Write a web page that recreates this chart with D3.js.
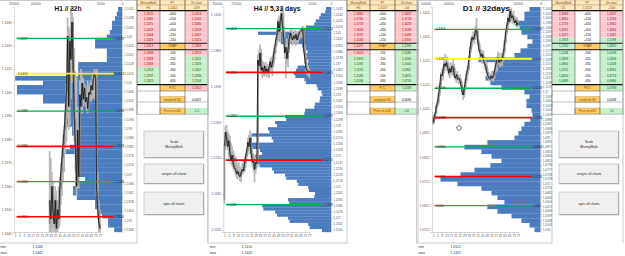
<!DOCTYPE html>
<html>
<head>
<meta charset="utf-8">
<script src="https://cdn.jsdelivr.net/npm/d3@7"></script>
<style>
  body { margin: 0; background: #fff; }
  svg { display: block; font-family: "Liberation Sans", Arial, sans-serif; }
</style>
</head>
<body>
<svg id="chart" width="625" height="256"></svg>
<script>
// -----------------------------
// data (prices in 1/10000, volumes in contracts)
// -----------------------------
const BAR_TICKS = [1, 5, 9, 13, 17, 21, 25, 29, 33, 37, 41, 45, 49, 53, 57, 61, 65, 69, 73, 77];
const PT_LABELS = ["+650", "+550", "+450", "+350", "+250", "+150", "VWAP", "-150", "-250", "-350", "-450", "-550", "-650"];

// H1 panel
const h1Title = "H1 // 32h";
const h1FirstBar = 32;
const h1FirstOpen = 11350;
const h1High = [11381,11378,11372,11368,11362,11366,11364,11360,11366,11370,11376,11382,11388,11392,11402,11410,11438,11434,11433,11442,11440,11438,11425,11415,11413,11400,11391,11411,11416,11413,11412,11410,11409,11408,11411,11409,11410,11411,11413,11414,11416,11415,11416,11372,11360,11356];
const h1Low  = [11344,11346,11345,11348,11344,11345,11346,11344,11348,11349,11358,11362,11368,11372,11380,11385,11395,11390,11392,11403,11410,11412,11385,11372,11362,11365,11365,11388,11398,11397,11400,11402,11400,11398,11397,11399,11403,11402,11403,11404,11403,11405,11362,11352,11346,11344];
const h1Close = [11360,11352,11366,11355,11350,11360,11348,11356,11352,11365,11372,11378,11384,11390,11398,11406,11430,11400,11428,11420,11436,11415,11395,11382,11366,11390,11370,11405,11400,11410,11403,11408,11402,11404,11399,11406,11405,11409,11407,11412,11414,11412,11364,11356,11350,11348];
const h1Profile = [900,1200,1600,2300,2300,2800,3500,6200,6200,3500,3500,3500,10100,10100,10100,24600,18200,24200,24200,18200,18200,13100,13100,13100,13100,13100,11500,11500,9700,9700,12000,13100,10100,10100,9700,9700,9700,8500,10800,11300,11300,10400,6200,6200,5100,4600,3200,3200,1800];
const h1PriceTicks = [1.1346, 1.1356, 1.1366, 1.1376, 1.1386, 1.1396, 1.1406, 1.1416, 1.1426, 1.1436];
const h1VolTicks = [0, 5000, 10000, 15000, 20000, 25000];
const h1Levels = [1.1429, 1.1414, 1.1398, 1.1383, 1.1368, 1.1353];
const h1LevelKinds = ["level", "vwap", "level", "band", "level", "band"];
const h1Header = [["MurreyMath", "PT", "1h chart"], ["H1", "1,1442", "+32h"]];
const h1Mm = ["1,1505","1,1490","1,1475","1,1459","1,1444","1,1429","1,1414","1,1398","1,1383","1,1368","1,1353","1,1337","1,1322"];
const h1MmTone = "ppppppppppggg";
const h1Target = ["1,1524","1,1502","1,1480","1,1459","1,1437","1,1415","1,1394","1,1372","1,1351","1,1329","1,1307","1,1286","1,1264"];
const h1TargetTone = "ppppppppggggg";
const h1Stats = ["1,1452", "0,0022", "-1,1"];
const h1StatTone = "pwg";
const h1MinMax = ["1,1346", "1,1442"];

// H4 panel
const h4Title = "H4 // 5,33 days";
const h4FirstBar = 1;
const h4FirstOpen = 11176;
const h4High = [11255,11278,11280,11272,11268,11265,11255,11250,11245,11240,11236,11230,11225,11228,11222,11220,11226,11230,11232,11240,11248,11262,11266,11272,11268,11250,11240,11238,11235,11240,11378,11384,11392,11386,11370,11368,11366,11368,11362,11365,11362,11372,11375,11370,11382,11392,11402,11412,11428,11432,11430,11442,11444,11438,11410,11395,11400,11392,11405,11412,11414,11410,11408,11412,11411,11410,11408,11412,11414,11416,11418,11417,11392,11378,11365,11362,11358];
const h4Low  = [11170,11245,11250,11245,11235,11232,11225,11222,11218,11215,11210,11206,11204,11208,11202,11200,11210,11212,11214,11220,11230,11238,11245,11240,11235,11222,11215,11200,11212,11220,11222,11355,11358,11350,11345,11348,11347,11350,11346,11350,11345,11352,11355,11348,11360,11370,11380,11390,11395,11400,11395,11412,11410,11395,11372,11345,11365,11360,11380,11393,11396,11390,11392,11396,11390,11395,11392,11398,11400,11402,11400,11380,11365,11352,11350,11348,11345];
const h4Close = [11250,11270,11262,11250,11258,11240,11230,11238,11225,11220,11218,11212,11215,11210,11208,11214,11218,11216,11226,11236,11244,11256,11250,11262,11240,11228,11232,11218,11228,11226,11370,11362,11380,11356,11360,11352,11362,11354,11358,11352,11360,11368,11360,11366,11378,11388,11398,11405,11424,11410,11425,11435,11418,11402,11380,11388,11372,11385,11400,11408,11402,11398,11404,11400,11406,11398,11404,11408,11410,11412,11414,11384,11372,11358,11356,11352,11355];
const h4Profile = [1300,1500,2700,3100,4000,4400,6600,7200,19200,14500,13800,13200,7600,7000,6200,6800,7000,6000,6200,8800,9200,9800,9400,7000,6600,3800,3500,2500,2300,2900,3000,4200,4400,6800,7000,12100,11800,14700,14200,16600,16200,20800,15600,15200,21800,21000,18700,18200,20000,19600,19200,18800,15500,15000,12100,11800,9000,8600,6000,5800,4200,4400,11300,11000,18100,17800,14700,14200,11300,10900,6000,5600,2400];
const h4PriceTicks = [1.1134, 1.1184, 1.1234, 1.1284, 1.1334, 1.1384, 1.1434];
const h4VolTicks = [0, 5000, 10000, 15000, 20000, 25000, 30000];
const h4Levels = [1.1414, 1.1353, 1.1292, 1.1231, 1.1169];
const h4LevelKinds = ["level", "band", "level", "band", "level"];
const h4Header = [["MurreyMath", "PT", "4h chart"], ["H4", "1,1557", "+5d"]];
const h4Mm = ["1,1841","1,1780","1,1719","1,1658","1,1597","1,1536","1,1475","1,1414","1,1353","1,1292","1,1231","1,1169","1,1108"];
const h4MmTone = "ppppppppggggg";
const h4Target = ["1,1807","1,1718","1,1628","1,1538","1,1449","1,1359","1,1269","1,1180","1,1090","1,1000","1,0911","1,0821","1,0731"];
const h4TargetTone = "ppppppggggggg";
const h4Stats = ["1,1238", "0,0090", "1,8"];
const h4StatTone = "gwg";
const h4MinMax = ["1,1154", "1,1442"];

// D1 panel
const d1Title = "D1 // 32days";
const d1FirstBar = 1;
const d1FirstOpen = 10990;
const d1High = [11000,10990,11010,11040,11060,11090,11130,11175,11190,11200,11225,11250,11235,11240,11215,11200,11215,11210,11230,11210,11190,11175,11180,11160,11165,11150,11135,11110,11120,11150,11180,11200,11240,11280,11320,11330,11345,11335,11370,11400,11350,11310,11290,11270,11260,11265,11240,11230,11215,11190,11175,11165,11170,11175,11170,11190,11215,11240,11260,11255,11240,11255,11245,11270,11310,11350,11380,11410,11420,11447,11440,11420,11430,11410,11400,11405,11395];
const d1Low  = [10955,10960,10975,11000,11025,11040,11075,11110,11150,11140,11170,11195,11180,11190,11160,11150,11170,11160,11185,11150,11140,11130,11140,11125,11130,11110,11080,11059,11070,11100,11130,11160,11180,11220,11255,11280,11300,11290,11310,11330,11290,11260,11240,11225,11210,11215,11190,11180,11165,11150,11140,11135,11140,11140,11135,11150,11170,11195,11210,11205,11195,11215,11200,11220,11250,11290,11330,11355,11375,11380,11390,11375,11380,11370,11365,11360,11362];
const d1Close = [10965,10985,11005,11035,11050,11085,11120,11165,11160,11185,11210,11200,11215,11195,11170,11190,11175,11200,11195,11160,11150,11165,11145,11150,11140,11120,11095,11080,11110,11140,11170,11190,11230,11270,11300,11320,11310,11325,11350,11345,11300,11270,11255,11240,11250,11225,11210,11200,11175,11160,11150,11145,11160,11150,11160,11180,11205,11225,11235,11215,11230,11220,11235,11260,11300,11340,11370,11400,11385,11430,11400,11410,11395,11380,11390,11370,11380];
const d1Profile = [4800,7000,7000,10000,9100,8300,5700,3500,5700,8700,11300,27000,19600,18700,21300,23900,21800,17000,7000,4800,6100,6100,3900,3500,4400,7000,8300,9600,11300,23100,33100,25700,21300,17000,21800,28700,34800,43500,36100,25700,21300,18700,15700,23100,18700,12600,8300,4800,2600];
const d1PriceTicks = [1.0522, 1.0622, 1.0722, 1.0822, 1.0922, 1.1022, 1.1122, 1.1222, 1.1322, 1.1422];
const d1VolTicks = [0, 10000, 20000, 30000, 40000, 50000];
const d1Levels = [1.1353, 1.1230, 1.1108, 1.0986, 1.0864, 1.0741, 1.0620];
const d1LevelKinds = ["level", "vwap", "level", "band", "level", "band", "level"];
const d1Header = [["MurreyMath", "PT", "4h chart"], ["D1", "1,1557", "+32d"]];
const d1Mm = ["1,1963","1,1841","1,1719","1,1597","1,1475","1,1353","1,1230","1,1108","1,0986","1,0864","1,0741","1,0620","1,0498"];
const d1MmTone = "pppppgggggggg";
const d1Target = ["1,2457","1,2190","1,1942","1,1694","1,1447","1,1199","1,0952","1,0704","1,0456","1,0208","0,9961","0,9713","0,9466"];
const d1TargetTone = "pppppgggggggg";
const d1Stats = ["1,0736", "0,0248", "1,6"];
const d1StatTone = "gwg";
const d1MinMax = ["1,0521", "1,1442"];

const STAT_LABELS = ["POC", "weighted SD", "Price at wSD"];
const BUTTON_LABELS = [["Scale", "MurreyMath"], ["unsync all charts"], ["sync all charts"]];

// -----------------------------
// panel setup
// -----------------------------
const panels = [
  { ox: 0, tableX: 137, right: 122, volLeft: 13.5, titleW: 27, title: h1Title,
    firstBar: h1FirstBar, firstOpen: h1FirstOpen, high: h1High, low: h1Low, close: h1Close,
    domain: [1.13465, 1.14424], priceTicks: h1PriceTicks, volMax: 25000, volTicks: h1VolTicks,
    profile: h1Profile, binMax: 1.1442, binStep: 0.0002, labelEvery: 2,
    levels: h1Levels, kinds: h1LevelKinds, header: h1Header, mm: h1Mm, mmTone: h1MmTone,
    target: h1Target, targetTone: h1TargetTone, stats: h1Stats, statTone: h1StatTone,
    minmax: h1MinMax, buttons: true },
  { ox: 209.3, tableX: 347, right: 121.7, volLeft: 7.7, titleW: 47, title: h4Title,
    firstBar: h4FirstBar, firstOpen: h4FirstOpen, high: h4High, low: h4Low, close: h4Close,
    domain: [1.1131, 1.1444], priceTicks: h4PriceTicks, volMax: 30000, volTicks: h4VolTicks,
    profile: h4Profile, binMax: 1.1442, binStep: 0.0004, labelEvery: 2,
    levels: h4Levels, kinds: h4LevelKinds, header: h4Header, mm: h4Mm, mmTone: h4MmTone,
    target: h4Target, targetTone: h4TargetTone, stats: h4Stats, statTone: h4StatTone,
    minmax: h4MinMax, buttons: false },
  { ox: 418, tableX: 552, right: 122.5, volLeft: 7.5, titleW: 47, title: d1Title,
    firstBar: d1FirstBar, firstOpen: d1FirstOpen, high: d1High, low: d1Low, close: d1Close,
    domain: [1.0510, 1.1446], priceTicks: d1PriceTicks, volMax: 50000, volTicks: d1VolTicks,
    profile: d1Profile, binMax: 1.1442, binStep: 0.0019, labelEvery: 1,
    levels: d1Levels, kinds: d1LevelKinds, header: d1Header, mm: d1Mm, mmTone: d1MmTone,
    target: d1Target, targetTone: d1TargetTone, stats: d1Stats, statTone: d1StatTone,
    minmax: d1MinMax, buttons: true }
];

const svg = d3.select("#chart");
const defs = svg.append("defs");

const LEVEL_COLOR = { level: "#00b050", vwap: "#ffff00", band: "#ff0000" };
const LEVEL_WIDTH = { level: 1.3, vwap: 1.8, band: 1.6 };
const TONE = {
  p: { fill: "#ffc7ce", text: "#9c0006" },
  g: { fill: "#c6efce", text: "#006100" },
  w: { fill: "#ffffff", text: "#000000" },
  o: { fill: "#ffcc66", text: "#7f4f00" },
  h: { fill: "#fce8c3", text: "#7f4f00" }
};

const fmtPrice = v => d3.format(".4f")(v).replace(/0+$/, "").replace(/\.$/, "").replace(".", ",");

function styleAxis(sel, size) {
  sel.attr("font-size", size).attr("font-family", null);
  sel.selectAll("text").attr("fill", "#595959");
  sel.selectAll("line").attr("stroke", "#a6a6a6").attr("stroke-width", 0.5);
  sel.select(".domain").attr("stroke", "#bfbfbf").attr("stroke-width", 0.6);
}

function drawPanel(p, idx) {
  const L = 14, R = p.right, T = 7, B = 232;
  const g = svg.append("g").attr("transform", `translate(${p.ox},0)`);

  // chart frame
  g.append("rect")
    .attr("x", -1.5).attr("y", 0.5)
    .attr("width", p.tableX - p.ox + 1.5).attr("height", 242.5)
    .attr("fill", "none").attr("stroke", "#bfbfbf").attr("stroke-width", 0.8);

  const y = d3.scaleLinear().domain(p.domain).range([B, T]);
  const xBar = d3.scalePoint().domain(d3.range(1, 78)).range([L + 1, L + 86]);
  const xVol = d3.scaleLinear().domain([0, p.volMax]).range([R, p.volLeft]);
  const bins = d3.range(p.profile.length).map(k => +(p.binMax - k * p.binStep).toFixed(4));
  const yBin = d3.scaleBand().domain(bins).range([T, B]);

  // volume profile
  g.append("g").selectAll("rect")
    .data(p.profile)
    .join("rect")
    .attr("x", d => xVol(d))
    .attr("width", d => R - xVol(d))
    .attr("y", (d, i) => yBin(bins[i]))
    .attr("height", yBin.bandwidth() + 0.15)
    .attr("fill", "#4a7cbf");

  // price bars
  defs.append("clipPath").attr("id", "clip" + idx)
    .append("rect").attr("x", L).attr("y", T).attr("width", R - L).attr("height", B - T);

  const bars = p.close.map((c, i) => ({
    n: p.firstBar + i,
    o: (i ? p.close[i - 1] : p.firstOpen) / 1e4,
    h: p.high[i] / 1e4,
    l: p.low[i] / 1e4,
    c: c / 1e4
  }));

  const cg = g.append("g").attr("clip-path", `url(#clip${idx})`);
  cg.selectAll(".hl").data(bars).join("rect")
    .attr("class", "hl")
    .attr("x", d => xBar(d.n) - 0.85).attr("width", 1.7)
    .attr("y", d => y(d.h)).attr("height", d => y(d.l) - y(d.h))
    .attr("fill", "#b8b8b8");
  cg.selectAll(".oc").data(bars).join("rect")
    .attr("class", "oc")
    .attr("x", d => xBar(d.n) - 0.85).attr("width", 1.7)
    .attr("y", d => y(Math.max(d.o, d.c)))
    .attr("height", d => Math.max(0.6, Math.abs(y(d.o) - y(d.c))))
    .attr("fill", "#858585");
  cg.append("path").datum(bars)
    .attr("d", d3.line().x(d => xBar(d.n)).y(d => y(d.c)))
    .attr("fill", "none").attr("stroke", "#111").attr("stroke-width", 0.8);

  // axes
  const gl = g.append("g").attr("transform", `translate(${L},0)`)
    .call(d3.axisLeft(y).tickValues(p.priceTicks).tickFormat(fmtPrice).tickSize(1.5).tickPadding(1));
  styleAxis(gl, 3.2);

  const gr = g.append("g").attr("transform", `translate(${R},0)`)
    .call(d3.axisRight(yBin)
      .tickValues(bins.filter((d, i) => i % p.labelEvery === 0))
      .tickFormat(fmtPrice).tickSize(1.2).tickPadding(1));
  styleAxis(gr, 3.1);

  const gb = g.append("g").attr("transform", `translate(0,${B})`)
    .call(d3.axisBottom(xBar).tickValues(BAR_TICKS).tickSize(1.5).tickPadding(1));
  styleAxis(gb, 3.1);

  // top volume axis, labels under the title are hidden as in the sheet
  const cx = (L + R) / 2;
  const shownVol = p.volTicks.filter(v => Math.abs(xVol(v) - cx) > p.titleW / 2 + 6);
  const gt = g.append("g").attr("transform", "translate(0,5.2)")
    .call(d3.axisTop(xVol).tickValues(shownVol).tickSize(0).tickPadding(0).tickFormat(d3.format("d")));
  styleAxis(gt, 3.6);
  gt.select(".domain").remove();

  // level lines
  const lv = g.append("g");
  p.levels.forEach((v, i) => {
    const k = p.kinds[i];
    lv.append("line")
      .attr("x1", L + 2.5).attr("x2", R - 8.5)
      .attr("y1", y(v)).attr("y2", y(v))
      .attr("stroke", LEVEL_COLOR[k]).attr("stroke-width", LEVEL_WIDTH[k]);
    [L + 4, R - 7.5].forEach(x => {
      lv.append("text")
        .attr("x", x).attr("y", y(v)).attr("dy", "0.35em")
        .attr("font-size", 3.1).attr("fill", "#262626")
        .text(fmtPrice(v));
    });
  });

  // title
  g.append("text")
    .attr("x", cx).attr("y", 10.5).attr("text-anchor", "middle")
    .attr("font-size", 8).attr("font-weight", "bold").attr("fill", "#111")
    .attr("textLength", p.titleW).attr("lengthAdjust", "spacingAndGlyphs")
    .text(p.title);

  // min / max
  [["min", 248.3, p.minmax[0]], ["max", 254.2, p.minmax[1]]].forEach(([lab, yy, val]) => {
    g.append("text").attr("x", 0.5).attr("y", yy).attr("font-size", 3.4).attr("fill", "#333").text(lab);
    g.append("text").attr("x", 32.5).attr("y", yy).attr("font-size", 3.4).attr("fill", "#333").text(val);
  });
}

function drawTable(p) {
  const t = svg.append("g").attr("transform", `translate(${p.tableX},0)`);
  const cols = [0, 23, 48, 71];
  const rows = [];
  rows.push({ y: 0, h: 5, cells: p.header[0].map(s => [s, "h"]) });
  rows.push({ y: 5, h: 5.3, cells: p.header[1].map(s => [s, "h"]) });
  for (let i = 0; i < 6; i++) {
    rows.push({ y: 11 + 5.3 * i, h: 5.3, cells: [[p.mm[i], p.mmTone[i]], [PT_LABELS[i], "w"], [p.target[i], p.targetTone[i]]] });
  }
  rows.push({ y: 43.5, h: 5.7, cells: [[p.mm[6], p.mmTone[6]], [PT_LABELS[6], "o"], [p.target[6], p.targetTone[6]]] });
  for (let i = 7; i < 13; i++) {
    rows.push({ y: 50 + 5.67 * (i - 7), h: 5.67, cells: [[p.mm[i], p.mmTone[i]], [PT_LABELS[i], "w"], [p.target[i], p.targetTone[i]]] });
  }
  const statY = [85, 96.5, 108];
  STAT_LABELS.forEach((lab, i) => {
    rows.push({ y: statY[i], h: 6, cells: [["", "w"], [lab, "o"], [p.stats[i], p.statTone[i]]] });
  });

  rows.forEach(r => {
    r.cells.forEach(([txt, tone], c) => {
      const x0 = cols[c], x1 = cols[c + 1];
      t.append("rect").attr("x", x0).attr("y", r.y).attr("width", x1 - x0).attr("height", r.h)
        .attr("fill", TONE[tone].fill)
        .attr("stroke", tone === "o" || tone === "h" ? "#b08a3e" : "none").attr("stroke-width", 0.35);
      if (txt) {
        t.append("text").attr("x", (x0 + x1) / 2).attr("y", r.y + r.h / 2).attr("dy", "0.35em")
          .attr("text-anchor", "middle").attr("font-size", 3).attr("fill", TONE[tone].text)
          .text(txt);
      }
    });
  });

  // grid lines
  cols.forEach(x => {
    t.append("line").attr("x1", x).attr("x2", x).attr("y1", 0).attr("y2", 114.5)
      .attr("stroke", "#595959").attr("stroke-width", 0.6);
  });
  [10.6, 43.2, 49.7, 84.6].forEach(yy => {
    t.append("line").attr("x1", 0).attr("x2", cols[3]).attr("y1", yy).attr("y2", yy)
      .attr("stroke", "#111").attr("stroke-width", 1.1);
  });
  [91, 102, 114.3].forEach(yy => {
    t.append("line").attr("x1", 0).attr("x2", cols[3]).attr("y1", yy).attr("y2", yy)
      .attr("stroke", "#7f7f7f").attr("stroke-width", 0.5);
  });
  // right edge of the sheet area
  t.append("line").attr("x1", cols[3]).attr("x2", cols[3]).attr("y1", 0).attr("y2", 243)
    .attr("stroke", "#bfbfbf").attr("stroke-width", 0.8);

  if (!p.buttons) return;
  const btnBoxes = [[131, 27], [164, 20], [192, 23]];
  BUTTON_LABELS.forEach((lines, i) => {
    const [by, bh] = btnBoxes[i];
    const bx = 7, bw = 60;
    t.append("rect").attr("x", bx).attr("y", by).attr("width", bw).attr("height", bh)
      .attr("fill", "#f0f0f0").attr("stroke", "#b4b4b4").attr("stroke-width", 0.6);
    t.append("path")
      .attr("d", `M${bx + 0.5},${by + bh - 0.5}H${bx + bw - 0.5}V${by + 0.5}`)
      .attr("fill", "none").attr("stroke", "#8a8a8a").attr("stroke-width", 0.6);
    lines.forEach((s, j) => {
      t.append("text").attr("x", bx + bw / 2)
        .attr("y", by + bh / 2 + (j - (lines.length - 1) / 2) * 4.4).attr("dy", "0.35em")
        .attr("text-anchor", "middle").attr("font-size", 3.3).attr("fill", "#222")
        .text(s);
    });
  });
}

panels.forEach((p, i) => {
  drawPanel(p, i);
  drawTable(p);
});

// mouse pointer left on the D1 chart
svg.append("path")
  .attr("d", "M459,125.3L461.7,128L459,130.7L456.3,128Z")
  .attr("fill", "#fff").attr("stroke", "#111").attr("stroke-width", 0.7);
</script>
</body>
</html>
